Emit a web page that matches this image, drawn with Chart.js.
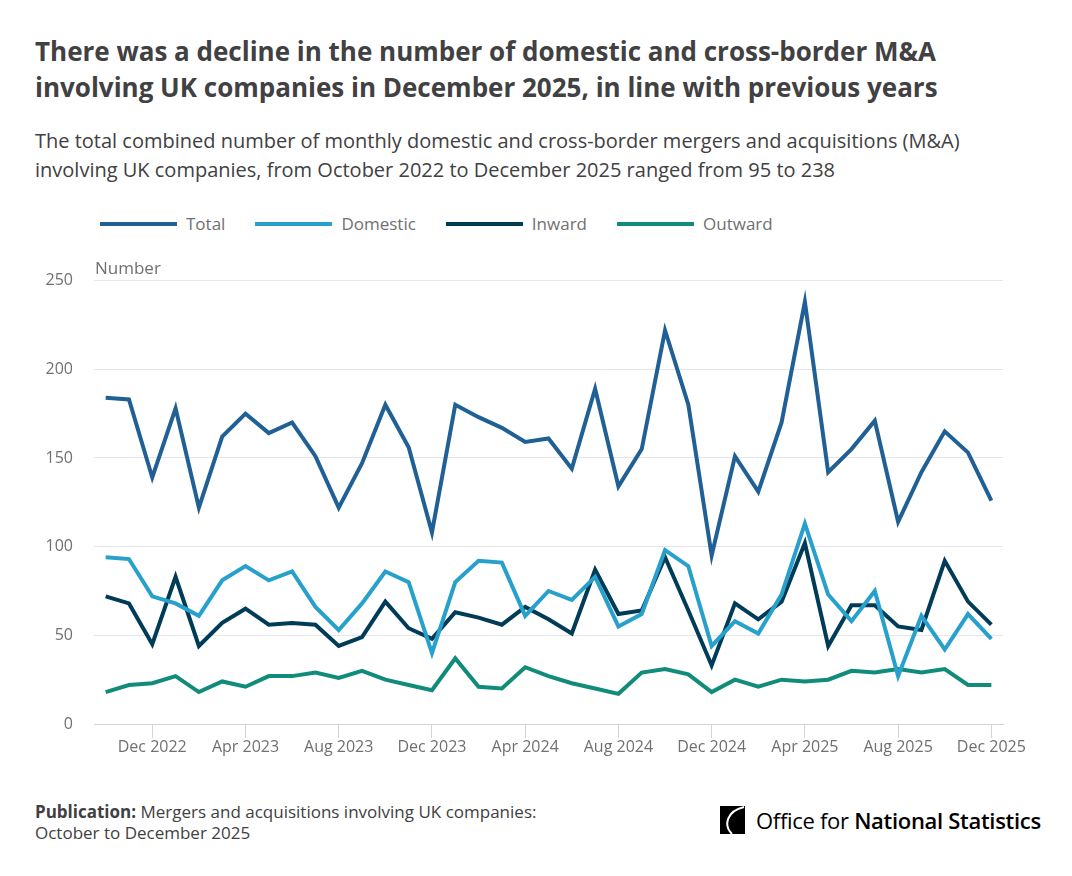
<!DOCTYPE html>
<html>
<head>
<meta charset="utf-8">
<script src="https://cdn.jsdelivr.net/npm/chart.js@4.4.0/dist/chart.umd.min.js"></script>
<style>
  body { margin: 0; background: #fff; font-family: "Open Sans", sans-serif; }
  #page { position: relative; width: 1072px; height: 876px; overflow: hidden; }
  h1 { position: absolute; left: 35px; top: 33px; margin: 0; width: 1000px;
       font-size: 26px; line-height: 36px; font-weight: 700; color: #414042; }
  .sub { position: absolute; left: 35px; top: 126px; margin: 0; width: 1010px;
         font-size: 20px; line-height: 29px; color: #414042; }
  #legend { position: absolute; left: 100px; top: 212px; display: flex; font-size: 17px; color: #707071; }
  #legend .item { display: flex; align-items: center; margin-right: 30px; }
  #legend .swatch { width: 77px; height: 4px; margin-right: 9px; }
  #wrap { position: absolute; left: 0; top: 250px; width: 1072px; height: 520px; }
  .foot { position: absolute; left: 35px; top: 801px; font-size: 17px; line-height: 21px; color: #414042; }
  .logo { position: absolute; left: 720px; top: 805px; display: flex; align-items: center;
          font-size: 22px; color: #000; letter-spacing: -0.3px; }
</style>
</head>
<body>
<div id="page">
  <h1>There was a decline in the number of domestic and cross-border M&amp;A involving UK companies in December 2025, in line with previous years</h1>
  <p class="sub">The total combined number of monthly domestic and cross-border mergers and acquisitions (M&amp;A) involving UK companies, from October 2022 to December 2025 ranged from 95 to 238</p>
  <div id="legend"></div>
  <div id="wrap"><canvas id="myChart"></canvas></div>
  <div class="foot"><b>Publication:</b> Mergers and acquisitions involving UK companies:<br>October to December 2025</div>
  <div class="logo">
    <svg width="25" height="28" viewBox="0 0 25 28" style="margin-right:11px">
      <rect width="25" height="28" fill="#000"/>
      <path d="M24 1 C7 5 3 19 12 28" stroke="#fff" stroke-width="2" fill="none"/>
    </svg>
    <span>Office for <b style="font-weight:600">National Statistics</b></span>
  </div>
</div>

<script>
// months Oct 2022 .. Dec 2025
var months = ["Jan", "Feb", "Mar", "Apr", "May", "Jun", "Jul", "Aug", "Sep", "Oct", "Nov", "Dec"];
var labels = [];
for (var y = 2022; y <= 2025; y++) {
  for (var m = 0; m < 12; m++) {
    if (y === 2022 && m < 9) continue;
    labels.push(months[m] + " " + y);
  }
}

// values
var total = [184, 183, 139, 178, 122, 162, 175, 164, 170, 151, 122, 147, 180, 156, 108, 180, 173, 167, 159, 161,
  144, 189, 134, 155, 222, 180, 95, 151, 131, 170, 238, 142, 155, 171, 114, 142, 165, 153, 126];
var domestic = [94, 93, 72, 68, 61, 81, 89, 81, 86, 66, 53, 68, 86, 80, 40, 80, 92, 91, 61, 75,
  70, 83, 55, 62, 98, 89, 44, 58, 51, 73, 113, 73, 58, 75, 27, 61, 42, 62, 48];
var inward = [72, 68, 45, 83, 44, 57, 65, 56, 57, 56, 44, 49, 69, 54, 48, 63, 60, 56, 66, 59,
  51, 87, 62, 64, 94, 64, 33, 68, 59, 69, 102, 44, 67, 67, 55, 53, 92, 69, 56];
var outward = [18, 22, 23, 27, 18, 24, 21, 27, 27, 29, 26, 30, 25, 22, 19, 37, 21, 20, 32, 27,
  23, 20, 17, 29, 31, 28, 18, 25, 21, 25, 24, 25, 30, 29, 31, 29, 31, 22, 22];

var yTicks = [0, 50, 100, 150, 200, 250];

var seriesNames = ["Total", "Domestic", "Inward", "Outward"];
var seriesColors = ["#206095", "#27a0cc", "#003c57", "#118c7b"];
var seriesData = [total, domestic, inward, outward];

var datasets = seriesNames.map(function (name, i) {
  return {
    label: name,
    data: seriesData[i],
    borderColor: seriesColors[i],
    backgroundColor: seriesColors[i],
    borderWidth: 4,
    pointRadius: 0,
    tension: 0,
  };
});

// legend in html
var legend = document.getElementById("legend");
seriesNames.forEach(function (name, i) {
  var item = document.createElement("div");
  item.className = "item";
  item.innerHTML = '<span class="swatch" style="background:' + seriesColors[i] + '"></span>' + name;
  legend.appendChild(item);
});

// "Number" label above the y axis
var axisTitle = {
  id: "axisTitle",
  afterDraw: function (chart) {
    var c = chart.ctx;
    c.save();
    c.font = '17px "Open Sans"';
    c.fillStyle = "#707071";
    c.textBaseline = "middle";
    c.fillText("Number", chart.chartArea.left + 1, chart.chartArea.top - 11);
    c.restore();
  },
};

var ctx = document.getElementById("myChart").getContext("2d");
var myChart = new Chart(ctx, {
  type: "line",
  data: { labels: labels, datasets: datasets },
  plugins: [axisTitle],
  options: {
    responsive: true,
    maintainAspectRatio: false,
    animation: false,
    layout: { padding: { top: 12.4, right: 69, bottom: 6, left: 0 } },
    plugins: { legend: { display: false }, tooltip: { enabled: false } },
    scales: {
      x: {
        offset: true,
        grid: { drawOnChartArea: false, drawTicks: true, tickLength: 14, color: "#d0d3e0", offset: false },
        border: { color: "#d0d3e0", width: 1 },
        ticks: {
          autoSkip: false,
          maxRotation: 0,
          padding: 0,
          color: "#707071",
          font: { family: "Open Sans", size: 16 },
          callback: function (val, idx) {
            return (idx - 2) % 4 === 0 ? labels[idx] : null;
          },
        },
        afterFit: function (scale) { scale.height = 40; },
      },
      y: {
        min: 0,
        max: 250,
        afterBuildTicks: function (scale) {
          scale.ticks = yTicks.map(function (v) { return { value: v }; });
        },
        grid: { color: "#e6e6ea", drawTicks: false },
        border: { display: false },
        ticks: { padding: 21, color: "#707071", font: { family: "Open Sans", size: 16 } },
        afterFit: function (scale) { scale.width = 94; },
      },
    },
  },
});
</script>
</body>
</html>
